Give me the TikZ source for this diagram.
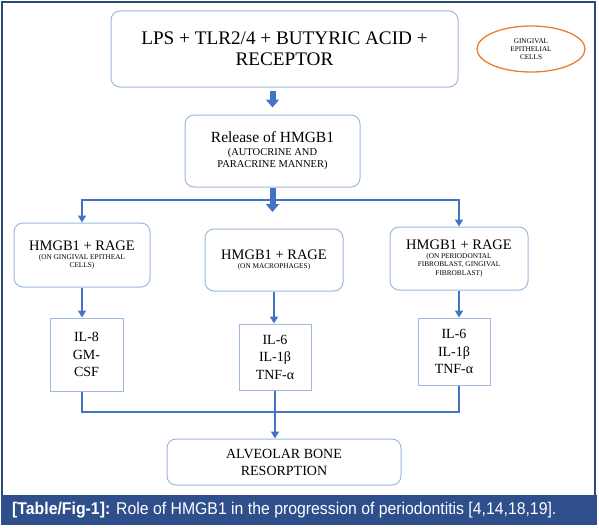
\documentclass[tikz,border=0pt]{standalone}
\usepackage{fontspec}
\setmainfont{Liberation Serif}
\newfontfamily\capfont[FakeStretch=0.93]{Liberation Sans}
\usetikzlibrary{shapes.geometric, arrows.meta}

\definecolor{framenavy}{HTML}{2B4A7A}
\definecolor{bandblue}{HTML}{2F4E8C}
\definecolor{boxline}{HTML}{9DB9DE}
\definecolor{flowblue}{HTML}{4472C4}
\definecolor{cellorange}{HTML}{ED7D31}
\newcommand\ragefont{\fontsize{14.5}{16}\selectfont}
\newcommand\notefont{\fontsize{7.3}{8.6}\selectfont}
\newcommand\relfont{\fontsize{10.5}{12.5}\selectfont}

\begin{document}
\begin{tikzpicture}[
    x=1pt, y=-1pt,
    every node/.style={align=center, inner sep=0pt},
    roundbox/.style={rectangle, draw=boxline, line width=1pt, rounded corners=9pt, fill=white},
    ragebox/.style={roundbox, font=\notefont},
    ilbox/.style={rectangle, draw=boxline, line width=1pt, fill=white, font=\fontsize{14}{17.5}\selectfont},
    fatarrow/.style={-{Triangle[length=8pt, width=13pt]}, line width=6pt, draw=flowblue},
    arrow/.style={-{Triangle[length=7pt, width=8pt]}, line width=2pt, draw=flowblue},
    link/.style={line width=2pt, draw=flowblue}
]
    \useasboundingbox (0,0) rectangle (599,527);
    \fill[white] (0,0) rectangle (599,527);
    \draw[draw=framenavy, line width=1.8pt] (1.9,1.9) rectangle (595,496);
    \fill[bandblue] (1,495) rectangle (596.5,525);

    \node[roundbox, minimum width=347pt, minimum height=76pt, font=\fontsize{19.2}{21}\selectfont] (trigger) at (284.5,49) {LPS + TLR2/4 + BUTYRIC ACID +\\RECEPTOR};
    \node[ellipse, draw=cellorange, line width=1.3pt, minimum width=108pt, minimum height=46pt, font=\fontsize{7.2}{8}\selectfont] (cells) at (531,49) {GINGIVAL\\EPITHELIAL\\CELLS};
    \node[roundbox, minimum width=175pt, minimum height=72pt, font=\relfont] (release) at (272.5,151) {\fontsize{15.5}{18}\selectfont Release of HMGB1\\(AUTOCRINE AND\\PARACRINE MANNER)};

    \coordinate (split) at (272.5,200);
    \coordinate (splittip) at (272.5,212);

    \node[ragebox, minimum width=136pt, minimum height=64pt] (onepith) at (82,255) {\ragefont HMGB1 + RAGE\\(ON GINGIVAL EPITHEAL\\CELLS)};
    \node[ragebox, minimum width=138pt, minimum height=62pt] (onmacro) at (274,260) {\ragefont HMGB1 + RAGE\\(ON MACROPHAGES)};
    \node[ragebox, minimum width=138pt, minimum height=63pt] (onfibro) at (459,258.5) {\ragefont HMGB1 + RAGE\\(ON PERIODONTAL\\FIBROBLAST, GINGIVAL\\FIBROBLAST)};

    \node[ilbox, minimum width=73pt, minimum height=73pt] (cyto1) at (86.5,354.5) {IL-8\\GM-\\CSF};
    \node[ilbox, minimum width=72pt, minimum height=66pt] (cyto2) at (275,357) {IL-6\\IL-1β\\TNF-α};
    \node[ilbox, minimum width=72pt, minimum height=67pt] (cyto3) at (454,351.5) {IL-6\\IL-1β\\TNF-α};

    \coordinate (join) at (274,412);
    \node[roundbox, minimum width=234pt, minimum height=46pt, font=\fontsize{14}{17}\selectfont] (resorb) at (284,462) {ALVEOLAR BONE\\RESORPTION};

    \draw[fatarrow, shorten <=3pt, shorten >=7pt] (release.north |- trigger.south) -- (release.north);
    \draw[fatarrow] (release.south) -- (splittip);
    \draw[arrow] (split) -| (onepith.north);
    \draw[arrow] (split) -| (onfibro.north);
    \draw[arrow] (onepith.south) -- (onepith.south |- cyto1.north);
    \draw[arrow] (onmacro.south) -- (onmacro.south |- cyto2.north);
    \draw[arrow] (onfibro.south) -- (onfibro.south |- cyto3.north);
    \draw[link] (cyto1.south -| onepith.south) |- (join) -| (cyto3.south -| onfibro.south);
    \draw[arrow] (cyto2.south) -- (cyto2.south |- resorb.north);

    \node[anchor=west, text=white, font=\capfont\fontsize{17}{19}\selectfont] (caption) at (12,510) {\textbf{[Table/Fig-1]:} Role of HMGB1 in the progression of periodontitis [4,14,18,19].};
\end{tikzpicture}
\end{document}
